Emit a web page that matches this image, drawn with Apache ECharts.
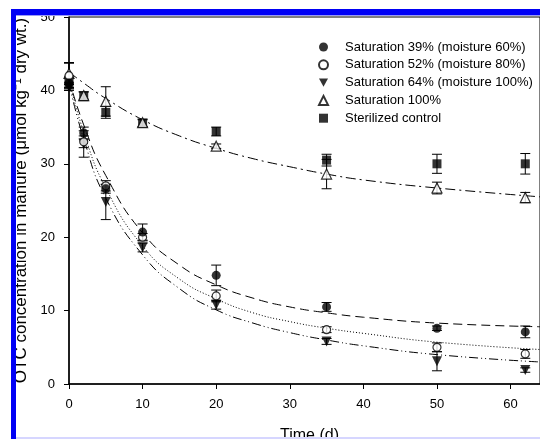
<!DOCTYPE html>
<html>
<head>
<meta charset="utf-8">
<script src="https://cdn.jsdelivr.net/npm/echarts@6/dist/echarts.min.js"></script>
<style>
  html, body { margin: 0; padding: 0; background: #fff; }
  #chart { width: 540px; height: 439px; }
</style>
</head>
<body>
<div id="chart"></div>
<script>
// sampling days and measured means / error half-widths
const days = [0, 2, 5, 10, 20, 35, 50, 62]
const sat39 = [41.0, 34.2, 26.6, 20.7, 14.8, 10.5, 7.6, 7.1]
const sat39Err = [0.6, 0.8, 0.6, 1.1, 1.4, 0.6, 0.3, 0.8]
const sat52 = [42.0, 33.0, 27.0, 20.0, 12.0, 7.4, 5.0, 4.1]
const sat52Err = [1.7, 0.8, 0.7, 0.5, 0.8, 0.4, 0.6, 0.6]
const sat64 = [40.5, 32.7, 24.8, 18.6, 10.8, 5.8, 3.1, 1.9]
const sat64Err = [0.5, 1.8, 2.4, 0.6, 0.6, 0.4, 1.3, 0.3]
const sat100 = [42.3, 39.3, 38.5, 35.6, 32.4, 28.6, 26.7, 25.4]
const sat100Err = [1.5, 0.5, 2.0, 0.5, 0.3, 2.0, 0.8, 0.7]
const control = [41.0, 39.2, 37.0, 35.5, 34.4, 30.5, 30.0, 30.0]
const controlErr = [0.8, 0.6, 0.8, 0.5, 0.6, 0.8, 1.3, 1.4]

// fitted curves
const fitDays = [0, 2, 5, 10, 15, 20, 25, 30, 35, 40, 50, 64]
const fit39 = [41.5, 35.3, 28.4, 20.6, 16.2, 13.5, 11.7, 10.5, 9.7, 9.1, 8.3, 7.8]
const fit52 = [41.5, 34.3, 26.7, 18.8, 14.3, 11.6, 9.7, 8.5, 7.6, 6.9, 5.7, 4.7]
const fit64 = [41.0, 33.4, 25.3, 17.6, 13.0, 10.1, 8.3, 7.0, 6.0, 5.2, 4.0, 3.0]
const fit100 = [42.5, 41.0, 38.9, 36.0, 33.8, 32.1, 30.7, 29.6, 28.6, 27.8, 26.7, 25.5]

const xTicks = [0, 10, 20, 30, 40, 50, 60]
const yTicks = [0, 10, 20, 30, 40, 50]

const names = [
  'Saturation 39% (moisture 60%)',
  'Saturation 52% (moisture 80%)',
  'Saturation 64% (moisture 100%)',
  'Saturation 100%',
  'Sterilized control'
]

const font = 'Liberation Sans, Arial, sans-serif'
const downTriangle = 'path://M0,0L10,0L5,9Z'

function pairs(xs, ys) {
  return xs.map((x, i) => [x, ys[i]])
}

function errBars(vals, errs) {
  return days.map((d, i) => [d, vals[i] - errs[i], vals[i] + errs[i]])
}

function renderErr(params, api) {
  const x = api.value(0)
  const top = api.coord([x, api.value(2)])
  const bot = api.coord([x, api.value(1)])
  const w = 5
  const style = { stroke: '#000', lineWidth: 1 }
  return {
    type: 'group',
    children: [
      { type: 'line', shape: { x1: top[0], y1: top[1], x2: bot[0], y2: bot[1] }, style },
      { type: 'line', shape: { x1: top[0] - w, y1: top[1], x2: top[0] + w, y2: top[1] }, style },
      { type: 'line', shape: { x1: bot[0] - w, y1: bot[1], x2: bot[0] + w, y2: bot[1] }, style }
    ]
  }
}

function errSeries(vals, errs) {
  return {
    type: 'custom',
    renderItem: renderErr,
    encode: { x: 0, y: [1, 2] },
    data: errBars(vals, errs),
    silent: true,
    z: 3
  }
}

function fitSeries(ys, dash) {
  return {
    type: 'line',
    data: pairs(fitDays, ys),
    smooth: true,
    symbol: 'none',
    lineStyle: { color: '#000', width: 1, type: dash },
    silent: true,
    z: 2
  }
}

function pointSeries(name, ys, symbol, size, filled) {
  return {
    name,
    type: 'scatter',
    data: pairs(days, ys),
    symbol,
    symbolSize: size,
    itemStyle: filled
      ? { color: '#000' }
      : { color: '#fff', borderColor: '#000', borderWidth: 1.2 },
    z: 5
  }
}

const chart = echarts.init(document.getElementById('chart'))

chart.setOption({
  animation: false,
  backgroundColor: '#fff',
  textStyle: { fontFamily: font },
  grid: {
    left: 69,
    right: 0,
    top: 17,
    bottom: 55,
    outerBoundsMode: 'none',
    containLabel: false,
    show: true,
    borderColor: '#000',
    borderWidth: 1,
    backgroundColor: 'transparent'
  },
  legend: {
    data: names,
    orient: 'vertical',
    left: 313,
    top: 35,
    itemWidth: 9,
    itemHeight: 9,
    itemGap: 3.8,
    textStyle: { fontSize: 13, color: '#000', fontFamily: font, lineHeight: 14, padding: [0, 0, 0, 12] }
  },
  xAxis: {
    type: 'value',
    min: 0,
    max: 64,
    interval: 10,
    name: 'Time (d)',
    nameLocation: 'middle',
    nameGap: 44,
    nameTextStyle: { fontSize: 16, color: '#000', fontFamily: font, padding: [0, 0, 0, 10] },
    axisLine: { lineStyle: { color: '#000', width: 1.5 } },
    axisTick: { length: 5, lineStyle: { color: '#000' } },
    axisLabel: {
      fontSize: 13,
      color: '#000',
      margin: 14,
      showMaxLabel: false,
      formatter: v => (xTicks.includes(v) ? String(v) : '')
    },
    splitLine: { show: false }
  },
  yAxis: {
    type: 'value',
    min: 0,
    max: 50,
    interval: 10,
    name: 'OTC concentration in manure (μmol kg⁻¹ dry wt.)',
    nameLocation: 'middle',
    nameRotate: 90,
    nameGap: 35,
    nameTextStyle: { fontSize: 17, color: '#000', fontFamily: font },
    axisLine: { show: true, lineStyle: { color: '#000', width: 1.5 } },
    axisTick: { show: true, length: 5, lineStyle: { color: '#000' } },
    axisLabel: {
      fontSize: 13,
      color: '#000',
      margin: 14,
      formatter: v => (yTicks.includes(v) ? String(v) : '')
    },
    splitLine: { show: false }
  },
  graphic: [
    { type: 'rect', shape: { x: 11, y: 9, width: 529, height: 6 }, style: { fill: '#0000f5' }, z: 100 },
    { type: 'rect', shape: { x: 11, y: 15, width: 529, height: 1 }, style: { fill: '#9a9af5' }, z: 100 },
    { type: 'rect', shape: { x: 11, y: 9, width: 5, height: 430 }, style: { fill: '#0000f5' }, z: 100 },
    { type: 'rect', shape: { x: 16, y: 437, width: 524, height: 2 }, style: { fill: '#d6d6ff' }, z: 100 }
  ],
  series: [
    fitSeries(fit39, [9, 5]),
    fitSeries(fit52, [1, 2]),
    fitSeries(fit64, [9, 3, 1, 3, 1, 3]),
    fitSeries(fit100, [10, 4, 2, 4]),
    errSeries(sat39, sat39Err),
    errSeries(sat52, sat52Err),
    errSeries(sat64, sat64Err),
    errSeries(sat100, sat100Err),
    errSeries(control, controlErr),
    pointSeries(names[4], control, 'rect', 9, true),
    pointSeries(names[3], sat100, 'triangle', 10, false),
    pointSeries(names[2], sat64, downTriangle, 10, true),
    pointSeries(names[1], sat52, 'circle', 8, false),
    pointSeries(names[0], sat39, 'circle', 9, true)
  ]
})
</script>
</body>
</html>
